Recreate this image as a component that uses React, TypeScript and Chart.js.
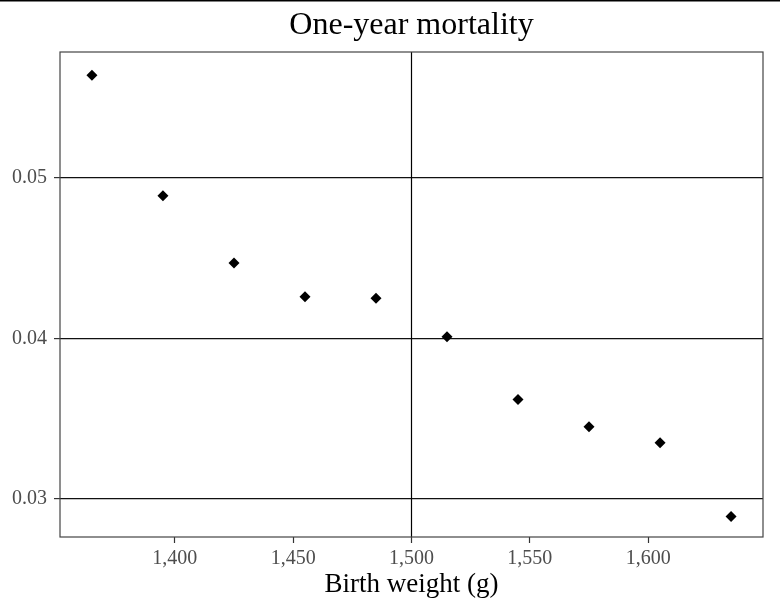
import React, { useEffect, useRef } from "react";
import { Chart, registerables } from "chart.js";

Chart.register(...registerables);

const birthWeights = [1365, 1395, 1425, 1455, 1485, 1515, 1545, 1575, 1605, 1635];
const mortality = [0.0564, 0.0489, 0.0447, 0.0426, 0.0425, 0.0401, 0.0362, 0.0345, 0.0335, 0.0289];
const xTicks = [1400, 1450, 1500, 1550, 1600];
const yTicks = [0.03, 0.04, 0.05];
const yLimits = [0.02763, 0.05785];
const cutoff = 1500;
const titleText = "One-year mortality";
const xTitle = "Birth weight (g)";

const FONT = "'Liberation Serif', 'Times New Roman', serif";

function expand(vals: number[]) {
  const lo = Math.min(...vals);
  const hi = Math.max(...vals);
  const pad = (hi - lo) * 0.05;
  return [lo - pad, hi + pad];
}

export default function App() {
  const ref = useRef<HTMLCanvasElement | null>(null);

  useEffect(() => {
    if (!ref.current) return;
    const [xmin, xmax] = expand(birthWeights);
    const [ymin, ymax] = yLimits;

    const decor = {
      id: "decor",
      beforeDatasetsDraw(chart: any) {
        const { ctx, chartArea, scales } = chart;
        ctx.save();
        const px = scales.x.getPixelForValue(cutoff);
        ctx.strokeStyle = "#000000";
        ctx.lineWidth = 1.2;
        ctx.beginPath();
        ctx.moveTo(px, chartArea.top);
        ctx.lineTo(px, chartArea.bottom);
        ctx.stroke();
        ctx.strokeStyle = "#444444";
        ctx.lineWidth = 1.2;
        ctx.strokeRect(chartArea.left, chartArea.top, chartArea.right - chartArea.left, chartArea.bottom - chartArea.top);
        ctx.restore();
      },
      afterDraw(chart: any) {
        const { ctx, chartArea, width } = chart;
        ctx.save();
        ctx.fillStyle = "#000000";
        ctx.fillRect(0, 0, width, 1.5);
        ctx.font = `32px ${FONT}`;
        ctx.textAlign = "center";
        ctx.textBaseline = "alphabetic";
        ctx.fillText(titleText, (chartArea.left + chartArea.right) / 2, 34);
        ctx.restore();
      },
    };

    const chart = new Chart(ref.current, {
      type: "scatter",
      data: {
        datasets: [
          {
            data: birthWeights.map((x, i) => ({ x, y: mortality[i] })),
            backgroundColor: "#000000",
            borderColor: "#000000",
            pointStyle: "rectRot",
            pointRadius: 5.5,
            borderWidth: 0,
          },
        ],
      },
      options: {
        animation: false,
        responsive: false,
        maintainAspectRatio: false,
        layout: { padding: { top: 52, right: 17, left: 0, bottom: 0 } },
        plugins: { legend: { display: false }, tooltip: { enabled: false }, title: { display: false } },
        scales: {
          x: {
            type: "linear",
            min: xmin,
            max: xmax,
            afterBuildTicks: (s: any) => {
              s.ticks = xTicks.map((v) => ({ value: v }));
            },
            afterFit: (s: any) => {
              s.height = 74;
            },
            ticks: {
              color: "#4d4d4d",
              font: { family: FONT, size: 20 },
              padding: 4,
              maxRotation: 0,
              autoSkip: false,
              callback: (v: any) => Number(v).toLocaleString("en-US"),
            },
            grid: { drawOnChartArea: false, drawTicks: true, tickLength: 6, tickColor: "#333333", tickWidth: 1.2 },
            border: { display: false },
            title: {
              display: true,
              text: xTitle,
              color: "#000000",
              font: { family: FONT, size: 27 },
              padding: { top: 0, bottom: 10 },
            },
          },
          y: {
            type: "linear",
            min: ymin,
            max: ymax,
            afterBuildTicks: (s: any) => {
              s.ticks = yTicks.map((v) => ({ value: v }));
            },
            afterFit: (s: any) => {
              s.width = 60;
            },
            ticks: {
              color: "#4d4d4d",
              font: { family: FONT, size: 20 },
              padding: 7,
              callback: (v: any) => Number(v).toFixed(2),
            },
            grid: { color: "#111111", lineWidth: 1.2, tickLength: 6, tickColor: "#333333", tickWidth: 1.2 },
            border: { display: false },
          },
        },
      },
      plugins: [decor],
    });
    return () => chart.destroy();
  }, []);

  return (
    <div style={{ position: "absolute", left: 0, top: 0, width: 780, height: 611, background: "#ffffff" }}>
      <canvas ref={ref} width={780} height={611} style={{ width: 780, height: 611, display: "block" }} />
    </div>
  );
}
